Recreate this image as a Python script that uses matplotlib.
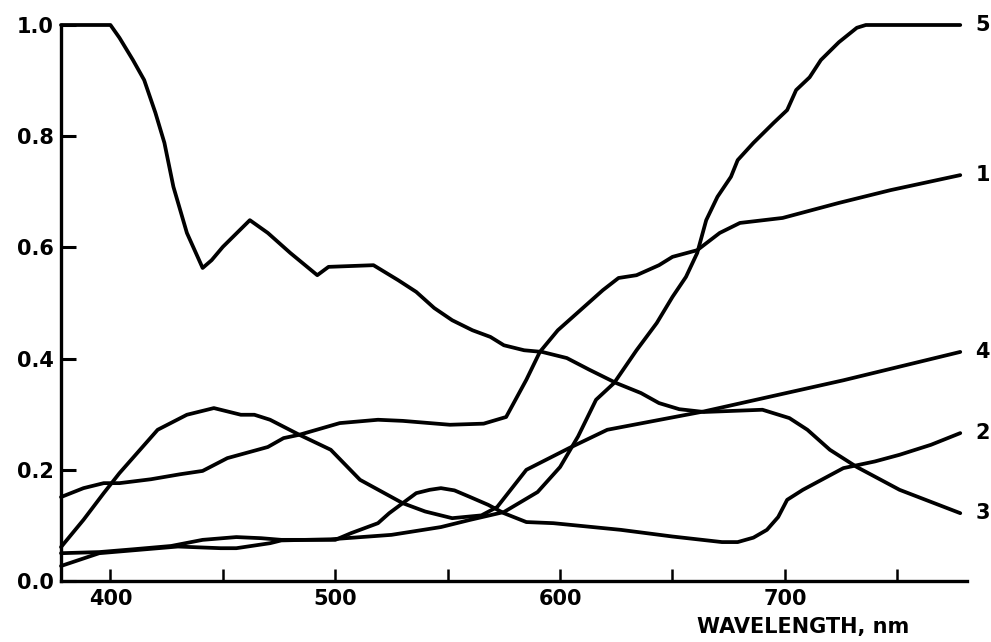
import matplotlib
matplotlib.use("Agg")
import matplotlib.pyplot as plt

# Reflectance curves (wavelength in nm, reflectance 0-1)
wl_1 = [378, 388, 397, 404, 418, 431, 441, 452, 470, 477, 484, 502, 519, 530, 551, 566,
        576, 585, 591, 599, 609, 619, 626, 634, 644, 650, 661, 671, 680, 699, 724, 747, 778]
r_1 = [0.151, 0.167, 0.176, 0.176, 0.183, 0.192, 0.198, 0.221, 0.241, 0.257, 0.263, 0.284,
       0.290, 0.288, 0.281, 0.283, 0.295, 0.362, 0.412, 0.451, 0.487, 0.523, 0.545, 0.550,
       0.568, 0.583, 0.595, 0.626, 0.644, 0.653, 0.680, 0.703, 0.730]

wl_2 = [378, 395, 410, 427, 441, 456, 467, 476, 495, 500, 507, 519, 524, 530, 536, 542,
        547, 553, 560, 568, 575, 585, 597, 627, 650, 672, 679, 686, 692, 697, 701, 708,
        726, 740, 751, 765, 778]
r_2 = [0.050, 0.052, 0.057, 0.063, 0.074, 0.079, 0.077, 0.074, 0.074, 0.074, 0.086, 0.104,
       0.122, 0.140, 0.158, 0.164, 0.167, 0.163, 0.151, 0.137, 0.122, 0.106, 0.104, 0.092,
       0.080, 0.070, 0.070, 0.078, 0.092, 0.115, 0.146, 0.164, 0.203, 0.215, 0.227, 0.245,
       0.266]

wl_3 = [378, 400, 404, 410, 415, 420, 424, 428, 434, 441, 445, 450, 462, 470, 480, 492,
        497, 517, 528, 536, 544, 552, 561, 569, 575, 584, 592, 603, 613, 625, 636, 644,
        653, 664, 690, 702, 710, 720, 732, 751, 778]
r_3 = [1.000, 1.000, 0.977, 0.937, 0.901, 0.842, 0.788, 0.709, 0.626, 0.563, 0.577, 0.601,
       0.649, 0.626, 0.590, 0.550, 0.565, 0.568, 0.541, 0.520, 0.491, 0.469, 0.451, 0.439,
       0.424, 0.415, 0.412, 0.401, 0.380, 0.356, 0.338, 0.320, 0.309, 0.304, 0.308, 0.293,
       0.272, 0.236, 0.205, 0.164, 0.122]

wl_4 = [378, 388, 397, 404, 421, 434, 446, 458, 464, 471, 484, 498, 511, 530, 540, 552,
        565, 572, 585, 604, 621, 664, 726, 778]
r_4 = [0.061, 0.110, 0.158, 0.194, 0.272, 0.299, 0.311, 0.299, 0.299, 0.290, 0.263, 0.236,
       0.182, 0.140, 0.125, 0.113, 0.118, 0.133, 0.200, 0.239, 0.272, 0.305, 0.361, 0.412]

wl_5 = [378, 395, 430, 449, 456, 471, 476, 498, 525, 547, 560, 575, 590, 600, 608, 616,
        624, 634, 643, 650, 656, 661, 665, 670, 676, 679, 686, 695, 701, 705, 711, 716,
        724, 732, 736, 778]
r_5 = [0.027, 0.050, 0.062, 0.059, 0.059, 0.068, 0.073, 0.075, 0.083, 0.097, 0.110, 0.124,
       0.160, 0.205, 0.260, 0.326, 0.356, 0.415, 0.464, 0.511, 0.547, 0.590, 0.649, 0.691,
       0.727, 0.757, 0.788, 0.824, 0.847, 0.883, 0.906, 0.937, 0.969, 0.995, 1.000, 1.000]

curve_labels = ["1", "2", "3", "4", "5"]
x_major = [400, 500, 600, 700]
x_minor = [450, 550, 650, 750]
y_ticks = [0.0, 0.2, 0.4, 0.6, 0.8, 1.0]
y_ticklabels = ["0.0", "0.2", "0.4", "0.6", "0.8", "1.0"]
x_title = "WAVELENGTH, nm"

plt.rcParams["font.family"] = ["DejaVu Sans"]
plt.rcParams["font.weight"] = "bold"

fig = plt.figure(figsize=(9.91, 6.42), dpi=100)
ax = fig.add_axes([61 / 991, 1 - 581 / 642, (967 - 61) / 991, (581 - 25) / 642])

series = [(wl_1, r_1), (wl_2, r_2), (wl_3, r_3), (wl_4, r_4), (wl_5, r_5)]
for (wl, r), lab in zip(series, curve_labels):
    ax.plot(wl, r, color="black", lw=2.7, solid_joinstyle="round",
            solid_capstyle="round", clip_on=False)
    ax.annotate(lab, xy=(wl[-1], r[-1]), xytext=(11, 0), textcoords="offset points",
                ha="left", va="center", fontsize=15, fontweight="bold")

ax.set_xlim(378, 781)
ax.set_ylim(0, 1.0)

for side in ("top", "right"):
    ax.spines[side].set_visible(False)
for side in ("left", "bottom"):
    ax.spines[side].set_linewidth(2.4)

ax.set_xticks(x_major)
ax.set_xticks(x_minor, minor=True)
ax.set_xticklabels([str(v) for v in x_major])
ax.set_yticks(y_ticks)
ax.set_yticklabels(y_ticklabels)

ax.tick_params(axis="x", which="both", direction="in", length=9, width=1.8,
               pad=6, labelsize=15)
ax.tick_params(axis="y", direction="in", length=11, width=2.2, pad=5, labelsize=15)
for t in ax.get_xticklabels() + ax.get_yticklabels():
    t.set_fontweight("bold")

fig.text(803 / 991, 1 - 627 / 642, x_title, ha="center", va="center",
         fontsize=15, fontweight="bold")

fig.savefig("out.png", dpi=100, facecolor="white")
